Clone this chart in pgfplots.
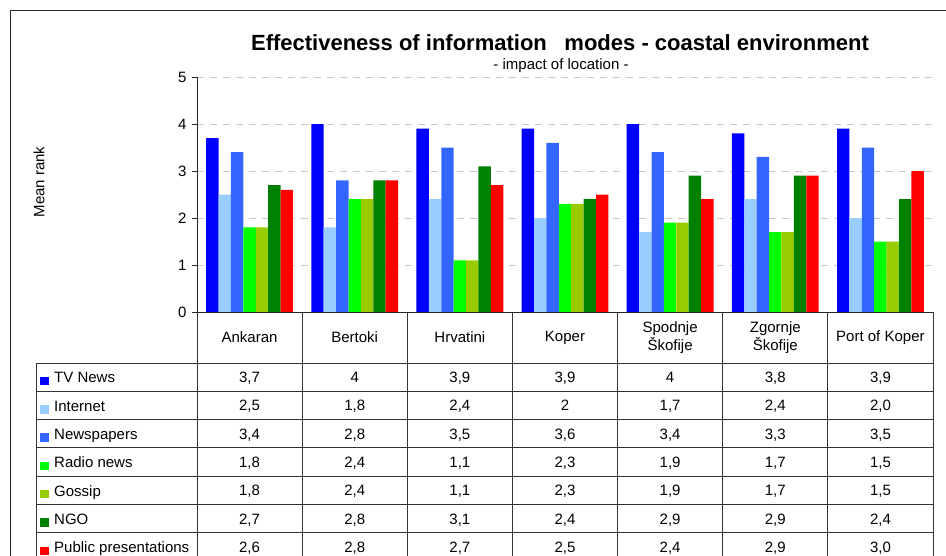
\documentclass[border=0pt]{standalone}
\usepackage{fontspec}
\setmainfont{Liberation Sans}
\usepackage{pgfplots}
\usepackage{pgfplotstable}
\pgfplotsset{compat=1.18}
\definecolor{cTV}{RGB}{0,0,255}
\definecolor{cInet}{RGB}{153,204,255}
\definecolor{cNews}{RGB}{51,102,255}
\definecolor{cRadio}{RGB}{0,255,0}
\definecolor{cGossip}{RGB}{153,204,0}
\definecolor{cNGO}{RGB}{0,128,0}
\definecolor{cPub}{RGB}{255,0,0}
\pgfplotstableread{
x tv inet news radio gossip ngo pub tvL inetL newsL radioL gossipL ngoL pubL
0 3.7 2.5 3.4 1.8 1.8 2.7 2.6 3,7 2,5 3,4 1,8 1,8 2,7 2,6
1 4.0 1.8 2.8 2.4 2.4 2.8 2.8 4 1,8 2,8 2,4 2,4 2,8 2,8
2 3.9 2.4 3.5 1.1 1.1 3.1 2.7 3,9 2,4 3,5 1,1 1,1 3,1 2,7
3 3.9 2.0 3.6 2.3 2.3 2.4 2.5 3,9 2 3,6 2,3 2,3 2,4 2,5
4 4.0 1.7 3.4 1.9 1.9 2.9 2.4 4 1,7 3,4 1,9 1,9 2,9 2,4
5 3.8 2.4 3.3 1.7 1.7 2.9 2.9 3,8 2,4 3,3 1,7 1,7 2,9 2,9
6 3.9 2.0 3.5 1.5 1.5 2.4 3.0 3,9 2,0 3,5 1,5 1,5 2,4 3,0
}\data
\newcommand{\fs}{\fontsize{15}{18}\selectfont}
\begin{document}
\begin{tikzpicture}[x=1pt,y=1pt]
\useasboundingbox (0,0) rectangle (946,-556);
\draw[line width=1pt, black!85] (10,-570) -- (10,-11) -- (960,-11);
\node[font=\bfseries\fontsize{22}{26}\selectfont] at (560,-43) {Effectiveness of information\hspace{0.8em}modes - coastal environment};
\node[font=\fs] at (561,-65.5) {- impact of location -};
\node[font=\fs, rotate=90] at (39,-182) {Mean rank};
\begin{axis}[
  at={(197pt,-312pt)}, anchor=south west,
  scale only axis, width=736pt, height=235pt,
  xmin=-0.5, xmax=6.5, ymin=0, ymax=5,
  ybar=0pt, bar width=12.4pt,
  axis x line=bottom, axis y line=left,
  axis line style={-, black!85, line width=0.9pt},
  xtick=\empty, ytick={0,1,2,3,4,5},
  tick align=outside, major tick length=5pt,
  ytick style={black!85, line width=0.9pt},
  ymajorgrids, major grid style={gray!45, line width=0.8pt, dash pattern=on 7pt off 6pt},
  yticklabel style={font=\fs, xshift=-2pt},
  /pgf/number format/assume math mode=true,
  clip=false,
]
\addplot[fill=cTV, draw=none] table[x=x,y=tv]{\data};
\addplot[fill=cInet, draw=none] table[x=x,y=inet]{\data};
\addplot[fill=cNews, draw=none] table[x=x,y=news]{\data};
\addplot[fill=cRadio, draw=none] table[x=x,y=radio]{\data};
\addplot[fill=cGossip, draw=none] table[x=x,y=gossip]{\data};
\addplot[fill=cNGO, draw=none] table[x=x,y=ngo]{\data};
\addplot[fill=cPub, draw=none] table[x=x,y=pub]{\data};
\end{axis}
% table grid
\foreach \k in {0,...,7} {
  \draw[black!80, line width=0.9pt] (36,{-363-\k*28.3}) -- (933,{-363-\k*28.3});
}
\draw[black!80, line width=0.9pt] (36,-363) -- (36,-570);
\foreach \k in {0,...,7} {
  \draw[black!80, line width=0.9pt] ({197+\k*105.143},-312) -- ({197+\k*105.143},-570);
}
% legend keys and row labels
\foreach \c/\t [count=\r from 0] in {cTV/TV News, cInet/Internet, cNews/Newspapers, cRadio/Radio news, cGossip/Gossip, cNGO/NGO, cPub/Public presentations} {
  \fill[\c] (40,{-377.2-\r*28.3-8}) rectangle ++(8.5,8.5);
  \node[font=\fs, anchor=base west, inner sep=0pt] at (54,{-377.2-\r*28.3-5.6}) {\t};
}
\begin{axis}[
  at={(197pt,-561pt)}, anchor=south west,
  scale only axis, width=736pt, height=198pt,
  xmin=-0.5, xmax=6.5, ymin=0.5, ymax=7.5, y dir=reverse,
  hide axis, clip=false,
  nodes near coords style={anchor=center, font=\fs, text height=11pt, text depth=0pt, inner sep=0pt},
]
\node[font=\fs] at (axis cs:0,-0.4) {Ankaran};
\node[font=\fs] at (axis cs:1,-0.4) {Bertoki};
\node[font=\fs] at (axis cs:2,-0.4) {Hrvatini};
\node[font=\fs] at (axis cs:3,-0.4) {Koper};
\node[font=\fs, align=center] at (axis cs:4,-0.4) {Spodnje\\Škofije};
\node[font=\fs, align=center] at (axis cs:5,-0.4) {Zgornje\\Škofije};
\node[font=\fs] at (axis cs:6,-0.4) {Port of Koper};
\addplot[draw=none, mark=none, nodes near coords, point meta=explicit symbolic] table[x=x, y expr=1, meta=tvL]{\data};
\addplot[draw=none, mark=none, nodes near coords, point meta=explicit symbolic] table[x=x, y expr=2, meta=inetL]{\data};
\addplot[draw=none, mark=none, nodes near coords, point meta=explicit symbolic] table[x=x, y expr=3, meta=newsL]{\data};
\addplot[draw=none, mark=none, nodes near coords, point meta=explicit symbolic] table[x=x, y expr=4, meta=radioL]{\data};
\addplot[draw=none, mark=none, nodes near coords, point meta=explicit symbolic] table[x=x, y expr=5, meta=gossipL]{\data};
\addplot[draw=none, mark=none, nodes near coords, point meta=explicit symbolic] table[x=x, y expr=6, meta=ngoL]{\data};
\addplot[draw=none, mark=none, nodes near coords, point meta=explicit symbolic] table[x=x, y expr=7, meta=pubL]{\data};
\end{axis}
\end{tikzpicture}
\end{document}
